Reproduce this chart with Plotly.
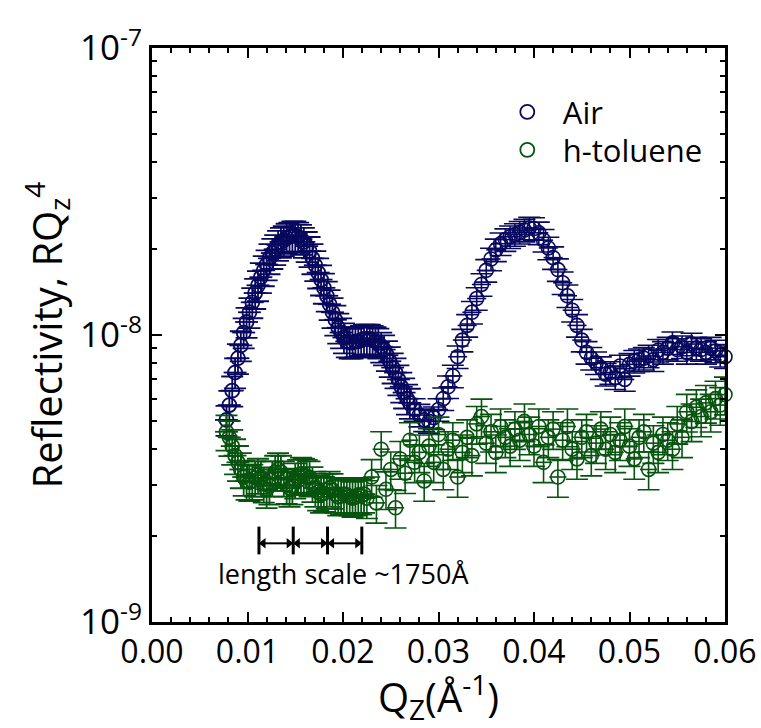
import numpy as np
import plotly.graph_objects as go

# ---------------- data ----------------
air_x_dense = [0.0078, 0.0081, 0.0084, 0.0087, 0.0090, 0.0093, 0.0096, 0.0099, 0.0102, 0.0105,
               0.0108, 0.0111, 0.0114, 0.0117, 0.0120, 0.0123, 0.0126, 0.0129, 0.0132, 0.0135,
               0.0138, 0.0141, 0.0144, 0.0147, 0.0150, 0.0153, 0.0156, 0.0159, 0.0162, 0.0165,
               0.0168, 0.0171, 0.0174, 0.0177, 0.0180, 0.0183, 0.0186, 0.0189, 0.0192, 0.0195,
               0.0198, 0.0201, 0.0204, 0.0207, 0.0210, 0.0213, 0.0216, 0.0219, 0.0222, 0.0225,
               0.0228, 0.0231, 0.0234, 0.0237, 0.0240, 0.0243, 0.0246, 0.0249, 0.0252, 0.0255,
               0.0258, 0.0261, 0.0264, 0.0267, 0.0270]
air_y_dense = [5.06, 5.7, 6.4, 7.4, 8.3, 9.2, 10.2, 11.1, 12.0, 13.0,
               14.0, 14.9, 15.9, 16.8, 17.6, 18.5, 19.3, 19.9, 20.6, 21.1,
               21.4, 21.8, 22.0, 22.2, 22.2, 22.0, 21.6, 21.1, 20.4, 19.6,
               18.5, 17.5, 16.5, 15.6, 14.6, 13.7, 12.8, 12.0, 11.3, 10.6,
               10.2, 9.8, 9.5, 9.4, 9.4, 9.5, 9.5, 9.6, 9.7, 9.7,
               9.7, 9.6, 9.5, 9.4, 9.1, 8.9, 8.5, 8.1, 7.7, 7.4,
               7.0, 6.6, 6.3, 6.0, 5.8]

air_x_sparse = [0.0275, 0.0280, 0.0285, 0.0290, 0.0295, 0.0300, 0.0305, 0.0310, 0.0315, 0.0320,
                0.0325, 0.0330, 0.0335, 0.0340, 0.0345, 0.0350, 0.0355, 0.0360, 0.0365, 0.0370,
                0.0375, 0.0380, 0.0385, 0.0390, 0.0395, 0.0400, 0.0405, 0.0410, 0.0415, 0.0420,
                0.0425, 0.0430, 0.0435, 0.0440, 0.0445, 0.0450, 0.0455, 0.0460, 0.0465, 0.0470,
                0.0475, 0.0480, 0.0485, 0.0490, 0.0495, 0.0500, 0.0505, 0.0510, 0.0515, 0.0520,
                0.0525, 0.0530, 0.0535, 0.0540, 0.0545, 0.0550, 0.0555, 0.0560, 0.0565, 0.0570,
                0.0575, 0.0580, 0.0585, 0.0590, 0.0595, 0.0600]
air_y_sparse = [5.5, 5.26, 5.06, 5.0, 5.15, 5.5, 6.0, 6.6, 7.2, 8.4,
                9.6, 10.8, 12.0, 13.4, 15.0, 16.8, 18.4, 19.8, 20.8, 21.5,
                22.0, 22.4, 22.8, 23.2, 23.6, 23.5, 22.7, 21.4, 20.1, 18.6,
                16.9, 15.2, 13.7, 12.2, 10.8, 9.6, 8.7, 8.3, 8.0, 7.7,
                7.3, 7.4, 7.1, 7.8, 7.0, 7.9, 8.1, 8.2, 8.3, 8.45,
                8.2, 8.85, 8.7, 9.0, 9.4, 8.9, 9.1, 8.7, 9.3, 9.0,
                8.9, 8.7, 9.0, 8.8, 8.5, 8.4]

tol_x_dense = [0.0078, 0.0081, 0.0084, 0.0087, 0.0090, 0.0093, 0.0096, 0.0099, 0.0102, 0.0105,
               0.0108, 0.0111, 0.0114, 0.0117, 0.0120, 0.0123, 0.0126, 0.0129, 0.0132, 0.0135,
               0.0138, 0.0141, 0.0144, 0.0147, 0.0150, 0.0153, 0.0156, 0.0159, 0.0162, 0.0165,
               0.0168, 0.0171, 0.0174, 0.0177, 0.0180, 0.0183, 0.0186, 0.0189, 0.0192, 0.0195,
               0.0198, 0.0201, 0.0204, 0.0207, 0.0210, 0.0213, 0.0216, 0.0219, 0.0222]
tol_y_dense = [4.6, 4.4, 4.1, 3.8, 3.6, 3.4, 3.2, 3.1, 3.07, 3.1,
               3.18, 3.25, 3.18, 3.03, 2.9, 2.98, 3.18, 3.33, 3.4, 3.33,
               3.18, 3.0, 2.93, 2.98, 3.13, 3.22, 3.28, 3.25, 3.22, 3.18,
               3.04, 2.93, 2.84, 2.79, 2.81, 2.88, 2.93, 2.88, 2.79, 2.73,
               2.75, 2.79, 2.77, 2.73, 2.7, 2.73, 2.77, 2.75, 2.79]

tol_x_sparse = [0.0225, 0.0230, 0.0235, 0.0240, 0.0245, 0.0250, 0.0255, 0.0260, 0.0265, 0.0270,
                0.0275, 0.0280, 0.0285, 0.0290, 0.0295, 0.0300, 0.0305, 0.0310, 0.0315, 0.0320,
                0.0325, 0.0330, 0.0335, 0.0340, 0.0345, 0.0350, 0.0355, 0.0360, 0.0365, 0.0370,
                0.0375, 0.0380, 0.0385, 0.0390, 0.0395, 0.0400, 0.0405, 0.0410, 0.0415, 0.0420,
                0.0425, 0.0430, 0.0435, 0.0440, 0.0445, 0.0450, 0.0455, 0.0460, 0.0465, 0.0470,
                0.0475, 0.0480, 0.0485, 0.0490, 0.0495, 0.0500, 0.0505, 0.0510, 0.0515, 0.0520,
                0.0525, 0.0530, 0.0535, 0.0540, 0.0545, 0.0550, 0.0555, 0.0560, 0.0565, 0.0570,
                0.0575, 0.0580, 0.0585, 0.0590, 0.0595, 0.0600]
tol_y_sparse = [2.7, 3.2, 2.6, 4.0, 2.9, 3.4, 2.5, 3.7, 3.3, 4.3,
                3.6, 3.9, 3.1, 4.1, 3.6, 4.5, 3.4, 4.0, 4.3, 3.2,
                3.9, 4.4, 3.8, 4.9, 5.2, 4.2, 4.6, 3.9, 4.8, 4.4,
                4.1, 4.7, 4.3, 5.0, 4.5, 4.1, 4.8, 3.6, 4.4, 4.7,
                3.2, 4.3, 4.8, 4.0, 3.7, 4.4, 4.6, 3.8, 4.2, 4.7,
                4.0, 4.5, 3.9, 4.3, 4.8, 4.1, 3.7, 4.4, 4.6, 3.4,
                4.2, 3.9, 4.5, 4.3, 4.0, 4.9, 4.4, 5.4, 5.0, 5.6,
                5.2, 5.8, 5.4, 6.0, 5.7, 6.2]

y_unit = 1e-9
scale_marks = [0.0112, 0.01479, 0.01838, 0.02197]   # fringe positions
scale_bar_y = [2.15e-9, 1.72e-9]                    # top / bottom of marker bars
scale_arrow_y = 1.88e-9
scale_text_y = 1.47e-9
scale_text_x = 0.0201
x_ticks = [0.00, 0.01, 0.02, 0.03, 0.04, 0.05, 0.06]
y_tickvals = [1e-9, 1e-8, 1e-7]
y_ticktext = ["10<sup>-9</sup>", "10<sup>-8</sup>", "10<sup>-7</sup>"]

AIR = "#08085f"
TOL = "#06540e"
FONT = "Open Sans"

fig = go.Figure()

def add_series(x, y, color, name, show, pct, xerr, legend_id, lw):
    fig.add_trace(go.Scatter(
        x=x, y=[v * y_unit for v in y], mode="markers", name=name, showlegend=show,
        legend=legend_id,
        marker=dict(symbol="circle-open", size=14, color=color, line=dict(width=lw, color=color)),
        error_y=dict(type="percent", value=pct, color=color, thickness=lw, width=11),
        error_x=dict(type="constant", value=xerr, color=color, thickness=lw, width=0),
        cliponaxis=False,
    ))

add_series(air_x_dense, air_y_dense, AIR, "Air", True, 12, 0.0012, "legend", 1.8)
add_series(air_x_sparse, air_y_sparse, AIR, "Air", False, 9, 0.0010, "legend", 1.6)
add_series(tol_x_dense, tol_y_dense, TOL, "h-toluene", True, 14, 0.0012, "legend2", 1.8)
add_series(tol_x_sparse, tol_y_sparse, TOL, "h-toluene", False, 15, 0.0009, "legend2", 1.6)

# length scale marker bars
for xm in scale_marks:
    fig.add_trace(go.Scatter(x=[xm, xm], y=scale_bar_y, mode="lines",
                             line=dict(color="black", width=3), showlegend=False,
                             hoverinfo="skip"))
# double arrows between bars
gap = 0.00045
for a, b in zip(scale_marks[:-1], scale_marks[1:]):
    fig.add_trace(go.Scatter(x=[a + gap, b - gap], y=[scale_arrow_y, scale_arrow_y],
                             mode="lines+markers", showlegend=False, hoverinfo="skip",
                             line=dict(color="black", width=2),
                             marker=dict(symbol=["triangle-left", "triangle-right"],
                                         size=9, color="black")))
fig.add_annotation(x=scale_text_x, y=np.log10(scale_text_y), xref="x", yref="y",
                   text="length scale ~1750Å", showarrow=False,
                   font=dict(family=FONT, size=27, color="black"))

axis_common = dict(showline=True, linewidth=3, linecolor="black", mirror="allticks",
                   ticks="inside", ticklen=10, tickwidth=2, tickcolor="black",
                   showgrid=False, zeroline=False)

fig.update_xaxes(range=[0, 0.06], tickvals=x_ticks, ticktext=[f"{v:.2f}" for v in x_ticks],
                 tickfont=dict(family=FONT, size=32, color="black"),
                 minor=dict(ticks="inside", ticklen=5, tickwidth=2, tickcolor="black",
                            dtick=0.002, showgrid=False),
                 title=dict(text="Q<sub>Z</sub>(Å<sup>-1</sup>)",
                            font=dict(family=FONT, size=40, color="black"), standoff=2),
                 **axis_common)
fig.update_yaxes(type="log", range=[-9, -7], tickvals=y_tickvals, ticktext=y_ticktext,
                 tickfont=dict(family=FONT, size=35, color="black"),
                 minor=dict(ticks="inside", ticklen=5, tickwidth=2, tickcolor="black",
                            dtick="D1", showgrid=False),
                 title=dict(text="Reflectivity, RQ<sub>z</sub><sup>4</sup>",
                            font=dict(family=FONT, size=40, color="black"), standoff=6),
                 **axis_common)

legend_style = dict(xanchor="left", yanchor="middle", bgcolor="rgba(0,0,0,0)",
                    font=dict(family=FONT, size=31, color="black"),
                    itemsizing="trace", itemwidth=61)
fig.update_layout(
    width=761, height=728,
    margin=dict(l=152, r=36, t=48, b=106, autoexpand=False),
    paper_bgcolor="white", plot_bgcolor="white",
    showlegend=True,
    legend=dict(x=0.593, y=0.888, **legend_style),
    legend2=dict(x=0.593, y=0.822, **legend_style),
    font=dict(family=FONT, color="black"),
)

fig.write_html("out.html")
